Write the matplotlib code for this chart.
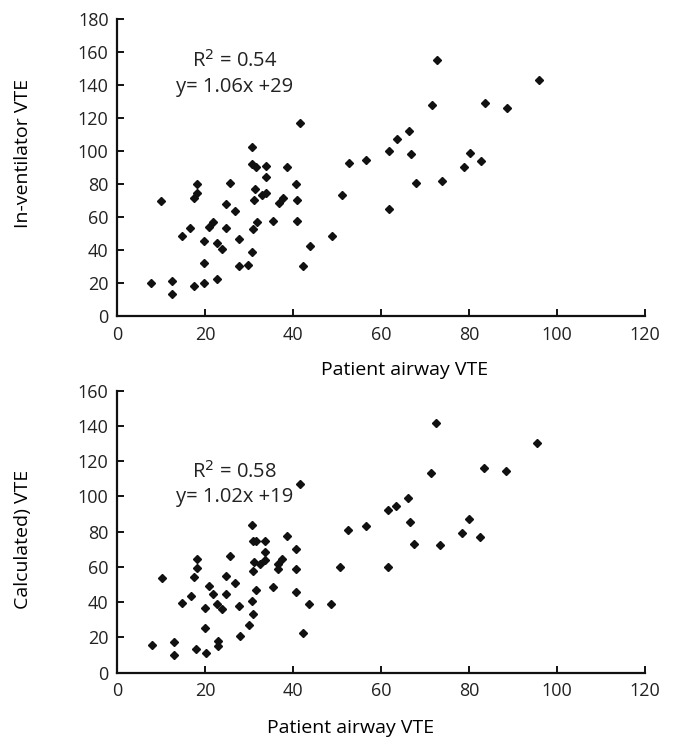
import matplotlib

matplotlib.use("Agg")
import matplotlib.pyplot as plt  # noqa: E402

INK = "#111111"

# top panel: patient airway VTE vs in-ventilator VTE
top_x = [7.7, 10.0, 12.6, 12.6, 14.7, 16.7, 17.4, 18.3, 18.3, 17.6, 19.8, 19.8, 19.8,
         20.9, 21.9, 22.7, 22.8, 23.8, 24.8, 24.8, 25.8, 26.8, 27.8, 27.8, 29.8, 30.8,
         30.8, 31.0, 30.8, 31.7, 31.4, 31.1, 31.9, 33.8, 33.9, 32.9, 33.9, 35.5, 36.8,
         37.7, 38.6, 40.8, 41.0, 41.0, 41.7, 42.3, 43.8, 48.8, 51.1, 52.7, 56.7, 61.8,
         61.9, 63.7, 66.4, 66.9, 67.9, 71.7, 72.7, 73.9, 78.8, 80.2, 82.8, 83.7, 88.7,
         95.9]
top_y = [20.2, 69.8, 21.3, 13.4, 48.6, 53.4, 71.5, 74.5, 80.0, 18.2, 45.7, 32.4, 20.2,
         53.8, 56.7, 44.5, 22.3, 40.5, 67.6, 53.6, 80.8, 63.6, 46.6, 30.4, 31.2, 102.4,
         38.5, 52.6, 92.3, 90.1, 76.9, 70.6, 56.9, 91.1, 84.0, 73.1, 74.7, 57.7, 68.4,
         71.5, 90.1, 79.8, 70.6, 57.7, 117.0, 30.4, 42.3, 48.6, 73.1, 92.9, 94.5, 100.0,
         64.6, 107.1, 112.1, 98.0, 80.6, 128.1, 155.3, 81.6, 90.1, 99.0, 93.9, 129.1, 126.1,
         143.1]

# bottom panel: patient airway VTE vs calculated VTE
bot_x = [8.0, 10.3, 13.0, 13.0, 14.8, 16.8, 17.6, 18.3, 18.3, 18.0, 20.0, 20.0, 20.2,
         20.9, 21.9, 22.8, 23.8, 22.9, 22.9, 24.8, 24.8, 25.8, 26.8, 27.8, 27.9, 29.9,
         30.8, 31.0, 31.6, 31.0, 31.1, 30.8, 31.0, 31.7, 33.6, 33.6, 33.6, 32.6, 35.5,
         36.7, 36.7, 37.6, 38.6, 40.8, 40.8, 40.8, 41.6, 42.3, 43.7, 48.6, 50.7, 52.5,
         56.6, 61.5, 61.5, 63.4, 66.2, 66.5, 67.4, 71.4, 72.4, 73.4, 78.4, 79.9, 82.4,
         83.4, 88.4, 95.5]
bot_y = [15.7, 53.5, 17.4, 10.0, 39.3, 43.3, 54.4, 59.5, 64.5, 13.2, 36.9, 25.5, 11.0,
         49.3, 44.4, 38.8, 36.3, 18.0, 15.1, 54.8, 44.4, 66.4, 50.9, 37.8, 20.8, 27.2,
         83.9, 74.5, 74.7, 57.5, 62.6, 40.6, 33.1, 47.1, 75.0, 68.6, 63.9, 61.4, 48.6,
         58.6, 61.6, 64.3, 77.3, 70.1, 58.6, 45.6, 107.0, 22.5, 38.8, 39.1, 60.1, 81.1,
         83.4, 92.1, 59.9, 94.5, 99.4, 85.3, 73.0, 113.4, 141.8, 72.2, 79.4, 87.0, 77.1,
         115.9, 114.6, 130.4]

x_ticks = [0, 20, 40, 60, 80, 100, 120]
top_y_ticks = [0, 20, 40, 60, 80, 100, 120, 140, 160, 180]
bot_y_ticks = [0, 20, 40, 60, 80, 100, 120, 140, 160]

plt.rcParams.update(
    {
        "font.family": ["Open Sans", "DejaVu Sans"],
        "font.size": 13,
        "axes.labelsize": 14,
        "text.color": "#222222",
        "xtick.color": INK,
        "ytick.color": INK,
        "xtick.labelcolor": "#222222",
        "ytick.labelcolor": "#222222",
    }
)


def _panel(ax, xs, ys, y_ticks, ylabel, r2, eq, text_y, xlabel_pos, ylabel_y):
    ax.plot(xs, ys, linestyle="none", marker="D", markersize=4.4, color=INK)
    ax.set_xlim(0, 120)
    ax.set_ylim(0, y_ticks[-1])
    ax.set_xticks(x_ticks)
    ax.set_yticks(y_ticks)
    ax.tick_params(direction="in", length=5, width=1.4, pad=6)
    ax.tick_params(axis="x", pad=7)
    ax.spines[["top", "right"]].set_visible(False)
    ax.spines[["left", "bottom"]].set_linewidth(1.6)
    ax.spines[["left", "bottom"]].set_color(INK)
    ax.set_xlabel("Patient airway VTE", va="center")
    ax.xaxis.set_label_coords(*xlabel_pos)
    ax.set_ylabel(ylabel, va="center")
    ax.yaxis.set_label_coords(-0.178, ylabel_y)
    ax.text(26.7, text_y[0], r2, ha="center", va="center", fontsize=14.5)
    ax.text(26.7, text_y[1], eq, ha="center", va="center", fontsize=14.5)


fig = plt.figure(figsize=(6.75, 7.38), dpi=100)
ax_top = fig.add_axes([0.1733, 0.5718, 0.7822, 0.4024])
ax_bot = fig.add_axes([0.1733, 0.0885, 0.7822, 0.3821])

_panel(ax_top, top_x, top_y, top_y_ticks, "In-ventilator VTE",
       "R$^2$ = 0.54", "y= 1.06x +29", (154.5, 139), (0.5445, -0.182), 0.549)
_panel(ax_bot, bot_x, bot_y, bot_y_ticks, "Calculated) VTE",
       "R$^2$ = 0.58", "y= 1.02x +19", (114, 99.8), (0.442, -0.196), 0.474)

fig.savefig("out.png", dpi=100, facecolor="white")
plt.close(fig)
